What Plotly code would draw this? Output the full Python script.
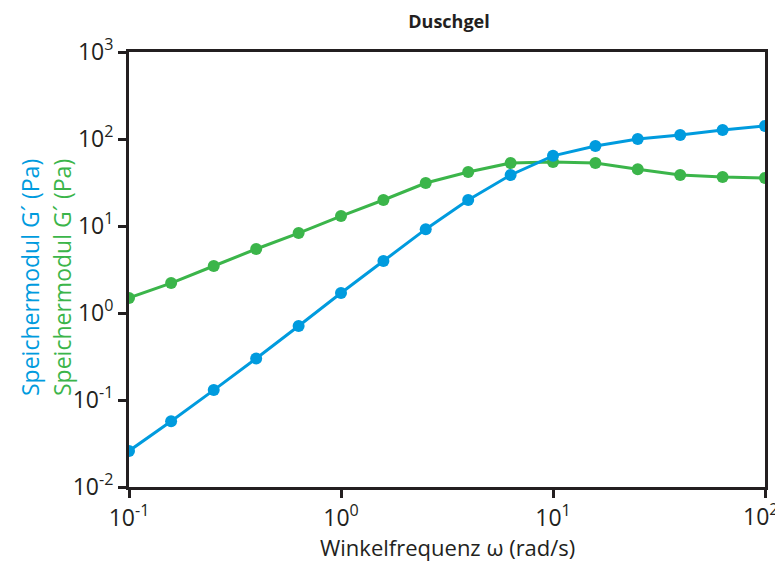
import plotly.graph_objects as go

omega = [0.1, 0.158, 0.251, 0.398, 0.631, 1.0, 1.585, 2.51, 3.98, 6.31,
         10.0, 15.85, 25.1, 39.8, 63.1, 100.0]
g_blue = [0.026, 0.057, 0.13, 0.30, 0.71, 1.70, 3.96, 9.2, 19.9, 38.6,
          64.0, 83.0, 100.0, 111.0, 127.0, 141.0]
g_green = [1.49, 2.21, 3.47, 5.44, 8.3, 13.0, 19.9, 31.2, 41.8, 53.0,
           54.5, 53.0, 45.0, 38.6, 36.6, 35.6]

x_tickvals = [0.1, 1, 10, 100]
x_ticktext = ["10<sup>-1</sup>", "10<sup>0</sup>", "10<sup>1</sup>", "10<sup>2</sup>"]
y_tickvals = [0.01, 0.1, 1, 10, 100, 1000]
y_ticktext = ["10<sup>-2</sup>", "10<sup>-1</sup>", "10<sup>0</sup>",
              "10<sup>1</sup>", "10<sup>2</sup>", "10<sup>3</sup>"]

title_text = "Duschgel"
x_title = "Winkelfrequenz ω (rad/s)"
y_title_blue = "Speichermodul G´ (Pa)"
y_title_green = "Speichermodul G´ (Pa)"

BLUE = "#009bde"
GREEN = "#3bb54a"
AXIS = "#231f20"
FONT = "'Open Sans', 'Noto Sans', sans-serif"

# the page body adds an 8px offset; work in page pixels and subtract it
OFF = 8
W, H = 783 - OFF, 561 - OFF
L, T = 129 - OFF, 52 - OFF
R = W - (765 - OFF)
B = H - (487 - OFF)
pw, ph = W - L - R, H - T - B


def px(xp):
    return (xp - OFF - L) / pw


def py(yp):
    return (H - (yp - OFF) - B) / ph


fig = go.Figure()
fig.add_trace(go.Scatter(x=omega, y=g_green, mode="lines+markers",
                         line=dict(color=GREEN, width=3),
                         marker=dict(color=GREEN, size=12), showlegend=False))
fig.add_trace(go.Scatter(x=omega, y=g_blue, mode="lines+markers",
                         line=dict(color=BLUE, width=3),
                         marker=dict(color=BLUE, size=12), showlegend=False))

tick_font = dict(family=FONT, size=23, color=AXIS)
axis_common = dict(showline=True, linecolor=AXIS, linewidth=3, mirror=True,
                   ticks="outside", ticklen=8, tickwidth=3, tickcolor=AXIS,
                   showgrid=False, zeroline=False, automargin=False,
                   tickfont=tick_font)

# last x tick label is placed as an annotation so it stays inside the page
x_ticktext_drawn = x_ticktext[:-1] + [""]
fig.update_xaxes(type="log", range=[-1, 2], tickvals=x_tickvals, ticktext=x_ticktext_drawn,
                 **axis_common)
fig.update_yaxes(type="log", range=[-2, 3], tickvals=y_tickvals, ticktext=y_ticktext,
                 **axis_common)

fig.add_annotation(text=x_ticktext[-1], x=px(781), y=py(496), xref="paper", yref="paper",
                   xanchor="right", yanchor="top", showarrow=False, font=tick_font)
fig.add_annotation(text=x_title, x=0.5, y=py(547), xref="paper", yref="paper",
                   xanchor="center", yanchor="middle", showarrow=False,
                   font=dict(family=FONT, size=22, color=AXIS))
fig.add_annotation(text=y_title_blue, textangle=-90, x=px(30), y=py(278),
                   xref="paper", yref="paper", xanchor="center", yanchor="middle",
                   showarrow=False, font=dict(family=FONT, size=23, color=BLUE))
fig.add_annotation(text=y_title_green, textangle=-90, x=px(62), y=py(278),
                   xref="paper", yref="paper", xanchor="center", yanchor="middle",
                   showarrow=False, font=dict(family=FONT, size=23, color=GREEN))

fig.update_layout(
    width=W, height=H,
    margin=dict(l=L, r=R, t=T, b=B),
    paper_bgcolor="white", plot_bgcolor="white",
    title=dict(text="<b>" + title_text + "</b>", x=(449 - OFF) / W, xanchor="center",
               y=1 - (22 - OFF) / H, yanchor="middle",
               font=dict(family=FONT, size=18, color=AXIS)),
)

fig.write_html("out.html")
